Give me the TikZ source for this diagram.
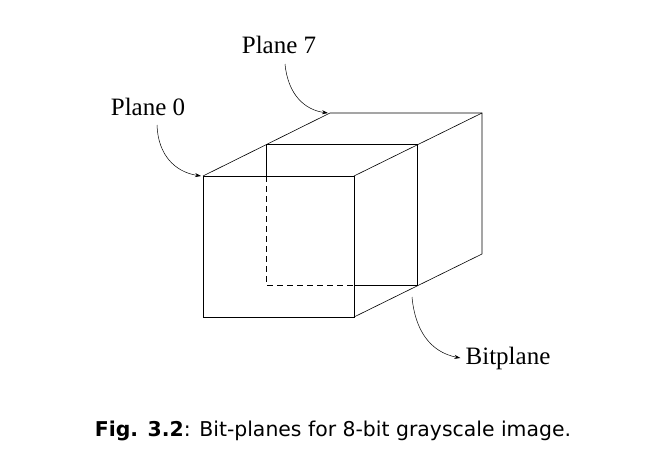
\documentclass[tikz,border=0pt]{standalone}
\usepackage{fontspec}
\setmainfont{Liberation Serif}
\newfontfamily\capfont{DejaVu Sans}
\usetikzlibrary{arrows.meta}
\begin{document}
\begin{tikzpicture}[x=1pt,y=-1pt,line width=0.6pt,
  lbl/.style={font=\fontsize{25}{28}\selectfont,inner sep=0pt},
  callout/.style={-{Stealth[length=6pt,width=4pt]},line width=0.5pt}]
\useasboundingbox[fill=white] (0,0) rectangle (666,471);
% front plane
\coordinate (fa) at (203,176); \coordinate (fb) at (354,176);
\coordinate (fc) at (354,317); \coordinate (fd) at (203,317);
% middle
\coordinate (ma) at (266,144); \coordinate (mb) at (417,144);
\coordinate (mc) at (417,285); \coordinate (md) at (266,285);
% back
\coordinate (ba) at (330,113); \coordinate (bb) at (482,113);
\coordinate (bc) at (482,254);
\draw (fa) -- (fb) -- (fc) -- (fd) -- cycle;
\draw (fa) -- (ba) -- (bb) -- (bc) -- (fc);
\draw (fb) -- (bb);
\draw (266,176) -- (ma) -- (mb) -- (mc) -- (354,285);
\draw[dashed,dash pattern=on 6pt off 4pt] (266,176) -- (md) -- (354,285);
\node[lbl] (p7) at (279,45) {Plane 7};
\node[lbl] (p0) at (148,107) {Plane 0};
\node[lbl] (bp) at (508,358) {Bitplane};
\draw[callout] (285,64) .. controls (288,95) and (305,110) .. ([xshift=-2pt]ba);
\draw[callout] (157,125) .. controls (158,155) and (175,172) .. ([xshift=-2pt]fa);
\draw[callout] (412,297) .. controls (415,330) and (430,352) .. ([xshift=-5pt]bp.west);
\node[inner sep=0pt,font=\capfont\fontsize{20.4}{24}\selectfont] (cap) at (333,431) {\textbf{Fig. 3.2}: Bit-planes for 8-bit grayscale image.};
\end{tikzpicture}
\end{document}
